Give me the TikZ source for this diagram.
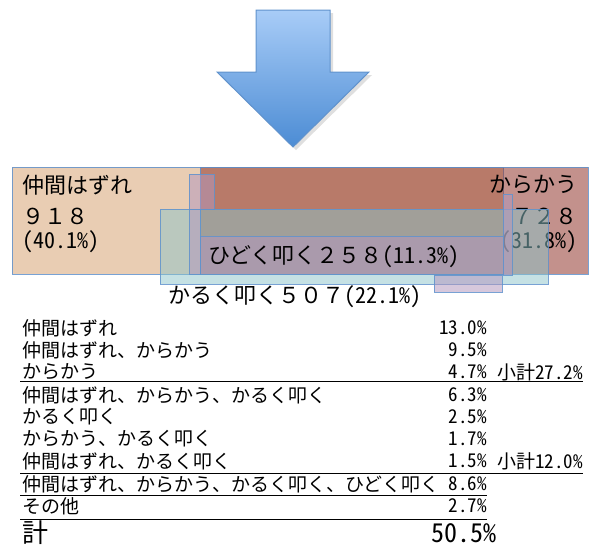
\documentclass[tikz,border=0pt]{standalone}
\usepackage{fontspec}
\setmainfont{Noto Sans CJK JP}
\newfontfamily\hw[RawFeature=+hwid]{Noto Sans CJK JP}
\definecolor{nakama}{RGB}{233,205,179}
\definecolor{karakau}{RGB}{145,55,45}
\definecolor{karuku}{RGB}{140,196,202}
\definecolor{hidoku}{RGB}{179,151,189}
\definecolor{edgeblue}{RGB}{96,146,204}
\definecolor{arrowtop}{RGB}{168,204,247}
\definecolor{arrowbot}{RGB}{76,140,212}
\tikzset{
  setbox/.style={draw=edgeblue,draw opacity=0.85,line width=0.7pt},
  boxtext/.style={font=\fontsize{22}{24}\selectfont,inner sep=0pt},
  rowtext/.style={font=\fontsize{19}{21}\selectfont,inner sep=0pt,anchor=west},
  pcttext/.style={font=\fontsize{19}{21}\selectfont\hw,inner sep=0pt,anchor=east}
}
\begin{document}
\begin{tikzpicture}[x=1pt,y=-1pt]
				\useasboundingbox (0,0) rectangle (592,550);
				% arrow
				\fill[gray,opacity=0.25] (259,13) -- (333,13) -- (333,75) -- (372,75) -- (296,150) -- (220,75) -- (259,75) -- cycle;
				\shade[top color=arrowtop,bottom color=arrowbot,draw=edgeblue,line width=1pt] (256,10) -- (330,10) -- (330,72) -- (369,72) -- (293,147) -- (217,72) -- (256,72) -- cycle;
				
				% sets
				\fill[nakama,setbox] (12,167) rectangle (503,274);
				\fill[karakau,fill opacity=0.55,setbox] (200,167) rectangle (588,274);
				
				\path (22,185) node[boxtext,anchor=west] (n0) {仲間はずれ};
				\path (22,216) node[boxtext,anchor=west] (n1) {９１８};
				\path (22,242) node[boxtext,anchor=west] (n2) {\hw(40.1\%)};
				\path (578,185) node[boxtext,anchor=east] (k0) {からかう};
				\path (578,216) node[boxtext,anchor=east] (k1) {７２８};
				\path (578,242) node[boxtext,anchor=east] (k2) {\hw(31.8\%)};
				
				\fill[karuku,fill opacity=0.5,setbox] (160,209) rectangle (548,284);
				\fill[hidoku,fill opacity=0.53,setbox] (200,236) rectangle (503,274);
				\fill[hidoku,fill opacity=0.53,setbox] (189,174) rectangle (214,209);
				\fill[hidoku,fill opacity=0.53,setbox] (189,209) rectangle (200,274);
				\fill[hidoku,fill opacity=0.53,setbox] (503,194) rectangle (512,275);
				\fill[hidoku,fill opacity=0.53,setbox] (434,275) rectangle (502,292);
				
				\path (208,257) node[boxtext,anchor=west] (h0) {ひどく叩く２５８{\hw(11.3\%)}};
				\path (168,297) node[boxtext,anchor=west] (r0) {かるく叩く５０７{\hw(22.1\%)}};
				
				% table
				\path (22,328) node[rowtext] (t1) {仲間はずれ};
				\path (22,350) node[rowtext] (t2) {仲間はずれ、からかう};
				\path (22,372) node[rowtext] (t3) {からかう};
				\path (22,395) node[rowtext] (t4) {仲間はずれ、からかう、かるく叩く};
				\path (22,417) node[rowtext] (t5) {かるく叩く};
				\path (22,439) node[rowtext] (t6) {からかう、かるく叩く};
				\path (22,461) node[rowtext] (t7) {仲間はずれ、かるく叩く};
				\path (22,484) node[rowtext] (t8) {仲間はずれ、からかう、かるく叩く、ひどく叩く};
				\path (22,506) node[rowtext] (t9) {その他};
				\path (22,533) node[rowtext,font=\fontsize{26}{28}\selectfont] (t10) {計};
				
				\path (487,328) node[pcttext] (p1) {13.0\%};
				\path (487,350) node[pcttext] (p2) {9.5\%};
				\path (487,372) node[pcttext] (p3) {4.7\%};
				\path (487,395) node[pcttext] (p4) {6.3\%};
				\path (487,417) node[pcttext] (p5) {2.5\%};
				\path (487,439) node[pcttext] (p6) {1.7\%};
				\path (487,461) node[pcttext] (p7) {1.5\%};
				\path (487,484) node[pcttext] (p8) {8.6\%};
				\path (487,506) node[pcttext] (p9) {2.7\%};
				\path (497,533) node[pcttext,font=\fontsize{26}{28}\selectfont\hw] (p10) {50.5\%};
				
				\path (583,372) node[pcttext] (s1) {{\rmfamily 小計}27.2\%};
				\path (583,461) node[pcttext] (s2) {{\rmfamily 小計}12.0\%};
				
				\draw (20,381) -- (583,381);
				\draw (20,473) -- (583,473);
				\draw (20,495) -- (487,495);
				\draw (20,519) -- (487,519);
\end{tikzpicture}
\end{document}
